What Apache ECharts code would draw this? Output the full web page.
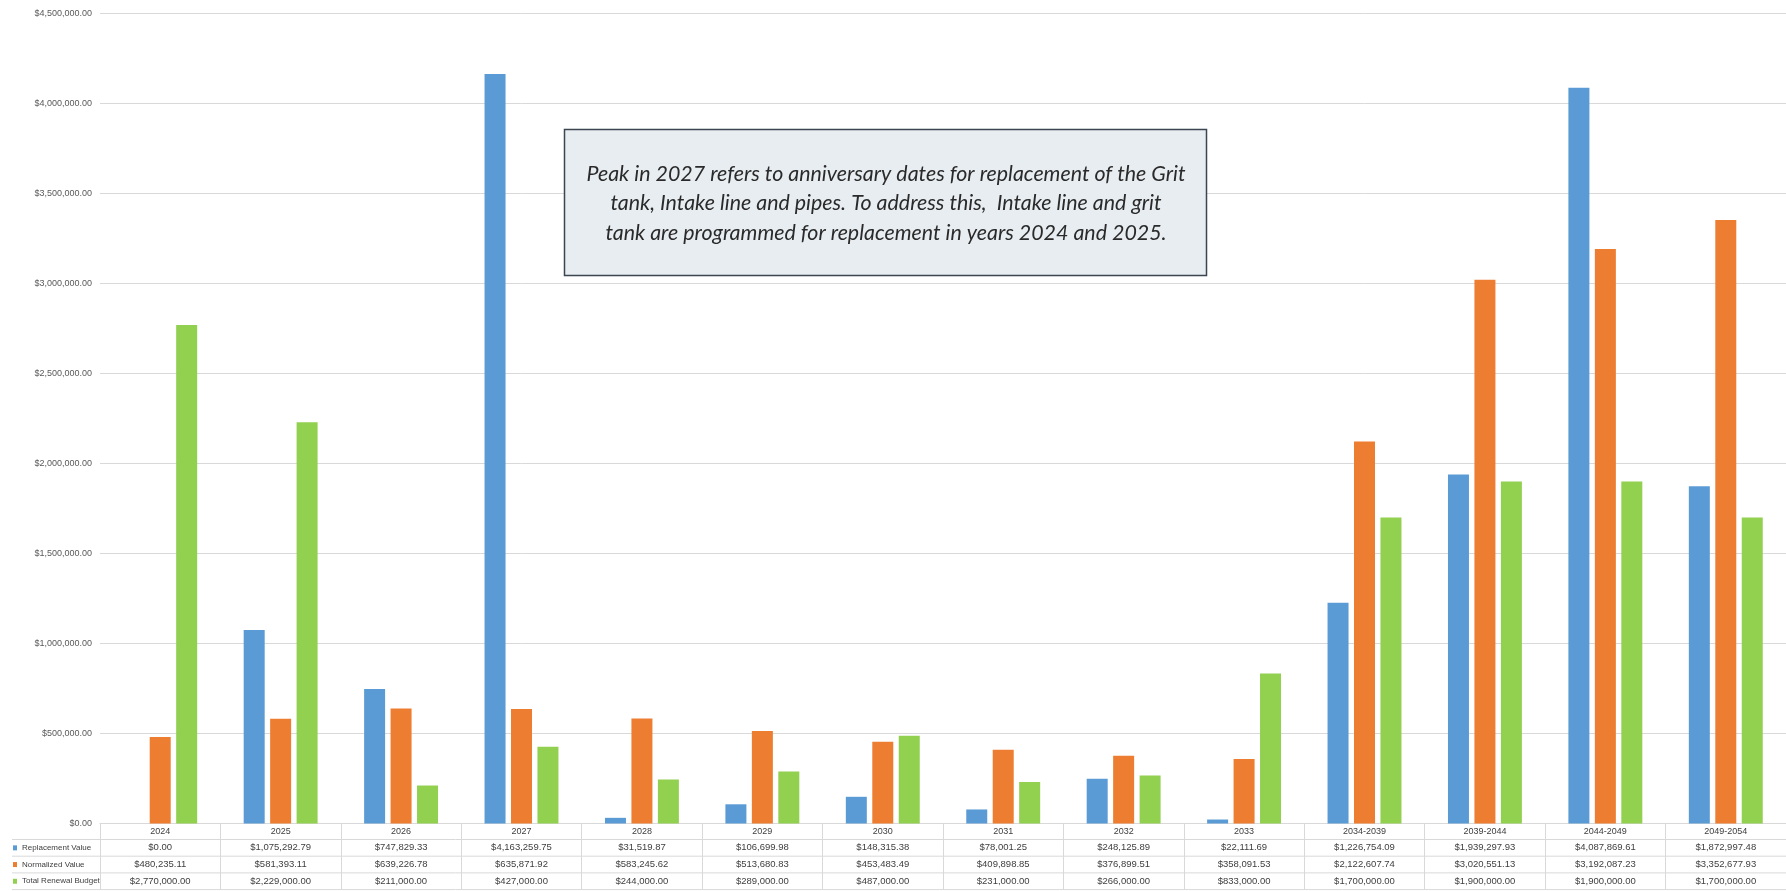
<!DOCTYPE html>
<html>
<head>
<meta charset="utf-8">
<title>Renewal Forecast</title>
<script src="https://cdn.jsdelivr.net/npm/echarts@6/dist/echarts.min.js"></script>
<style>
  html, body { margin: 0; padding: 0; background: #ffffff; }
  #chart { width: 1786px; height: 891px; }
</style>
</head>
<body>
<div id="chart"></div>
<script>
// Periods (single years, then five-year blocks)
const periods = ['2024', '2025', '2026', '2027', '2028', '2029', '2030', '2031', '2032', '2033',
  '2034-2039', '2039-2044', '2044-2049', '2049-2054'];

const replacementValue = [0.00, 1075292.79, 747829.33, 4163259.75, 31519.87, 106699.98, 148315.38,
  78001.25, 248125.89, 22111.69, 1226754.09, 1939297.93, 4087869.61, 1872997.48];

const normalizedValue = [480235.11, 581393.11, 639226.78, 635871.92, 583245.62, 513680.83, 453483.49,
  409898.85, 376899.51, 358091.53, 2122607.74, 3020551.13, 3192087.23, 3352677.93];

const totalRenewalBudget = [2770000, 2229000, 211000, 427000, 244000, 289000, 487000,
  231000, 266000, 833000, 1700000, 1900000, 1900000, 1700000];

const seriesNames = ['Replacement Value', 'Normalized Value', 'Total Renewal Budget'];
const seriesColors = ['#5b9bd5', '#ed7d31', '#92d050'];

const yMax = 4500000;
const yStep = 500000;

const noteText = 'Peak in 2027 refers to anniversary dates for replacement of the Grit\n' +
  'tank, Intake line and pipes. To address this,  Intake line and grit\n' +
  'tank are programmed for replacement in years 2024 and 2025.';

// Layout of the plot and the data table beneath it
const plotLeft = 100, plotTop = 13.5, plotBottom = 67.5, plotWidth = 1689;
const rowH = 16.7;
const tableFont = "'Liberation Sans Narrow', 'Liberation Sans', Arial, sans-serif";
const lineColor = '#d9d9d9';
const textColor = '#404040';

const money = v => '$' + v.toLocaleString('en-US', { minimumFractionDigits: 2, maximumFractionDigits: 2 });

const chart = echarts.init(document.getElementById('chart'), null, { renderer: 'canvas' });

const axisTop = 891 - plotBottom;
const hLines = [1, 2, 3, 4].map(i => ({
  type: 'line',
  silent: true,
  shape: { x1: 12, y1: axisTop + 16 + (i - 1) * rowH, x2: 1786, y2: axisTop + 16 + (i - 1) * rowH },
  style: { stroke: lineColor, lineWidth: 1 }
}));

const option = {
  animation: false,
  backgroundColor: '#ffffff',
  textStyle: { fontFamily: tableFont },
  grid: { left: plotLeft, top: plotTop, bottom: plotBottom, width: plotWidth, containLabel: false },
  legend: {
    orient: 'vertical',
    left: 13,
    top: axisTop + 16,
    padding: 0,
    itemGap: 0,
    itemWidth: 4,
    itemHeight: 5,
    icon: 'rect',
    selectedMode: false,
    textStyle: { fontSize: 8, color: textColor, lineHeight: rowH, fontFamily: tableFont },
    data: seriesNames
  },
  xAxis: {
    type: 'category',
    data: periods,
    boundaryGap: true,
    axisLine: { show: true, lineStyle: { color: lineColor, width: 1 } },
    axisTick: { show: true, length: 16 + 3 * rowH, lineStyle: { color: lineColor, width: 1 } },
    axisLabel: {
      interval: 0,
      margin: 0,
      formatter: (val, idx) => [
        '{h|' + val + '}',
        '{v|' + money(replacementValue[idx]) + '}',
        '{v|' + money(normalizedValue[idx]) + '}',
        '{v|' + money(totalRenewalBudget[idx]) + '}'
      ].join('\n'),
      rich: {
        h: { fontSize: 9, color: textColor, height: 16, lineHeight: 16, fontFamily: tableFont },
        v: { fontSize: 9.5, color: textColor, height: rowH, lineHeight: rowH, fontFamily: tableFont }
      }
    },
    splitLine: { show: false }
  },
  yAxis: {
    type: 'value',
    min: 0,
    max: yMax,
    interval: yStep,
    axisLine: { show: false },
    axisTick: { show: false },
    axisLabel: {
      margin: 8,
      fontSize: 9,
      color: '#595959',
      fontFamily: tableFont,
      formatter: v => money(v)
    },
    splitLine: { lineStyle: { color: lineColor, width: 1 } }
  },
  series: [
    { name: seriesNames[0], type: 'bar', data: replacementValue, barWidth: 21, barGap: '26%',
      itemStyle: { color: seriesColors[0] } },
    { name: seriesNames[1], type: 'bar', data: normalizedValue, barWidth: 21, barGap: '26%',
      itemStyle: { color: seriesColors[1] } },
    { name: seriesNames[2], type: 'bar', data: totalRenewalBudget, barWidth: 21, barGap: '26%',
      itemStyle: { color: seriesColors[2] } }
  ],
  graphic: [
    ...hLines,
    {
      type: 'rect',
      silent: true,
      shape: { x: 564.5, y: 129.5, width: 642, height: 146 },
      style: { fill: '#e8edf1', stroke: '#3b4651', lineWidth: 1.5 },
      z: 10
    },
    {
      type: 'text',
      silent: true,
      x: 886,
      y: 203.5,
      style: {
        text: noteText,
        align: 'center',
        verticalAlign: 'middle',
        font: 'italic 21.4px Lato, "Open Sans", sans-serif',
        lineHeight: 29.5,
        fill: '#2a2a2a'
      },
      z: 11
    }
  ]
};

chart.setOption(option);
</script>
</body>
</html>
